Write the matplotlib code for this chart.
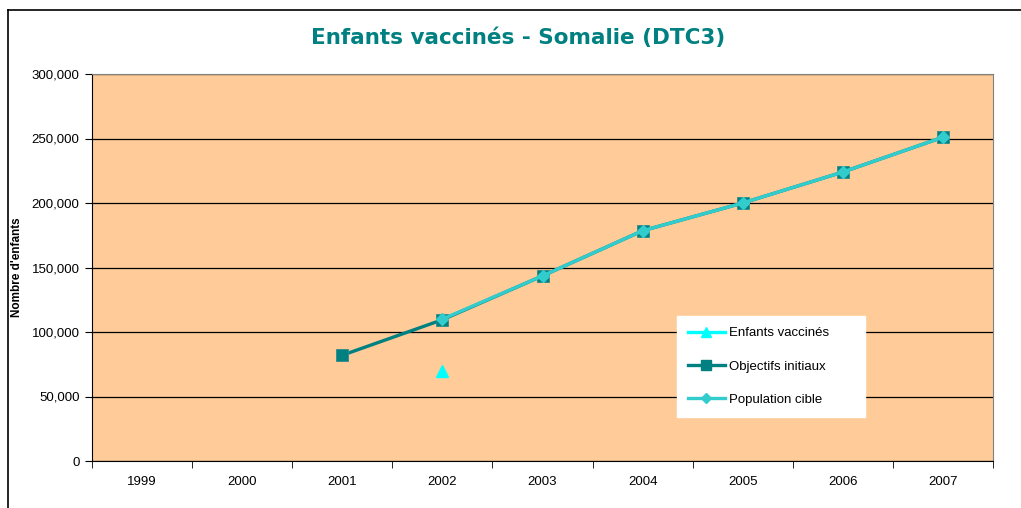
import matplotlib
matplotlib.use("Agg")
import matplotlib.pyplot as plt
from matplotlib.lines import Line2D
from matplotlib.ticker import FuncFormatter

## data
years = ["1999", "2000", "2001", "2002", "2003", "2004", "2005", "2006", "2007"]
enfants_vaccines = [None, None, None, 70000, None, None, None, None, None]
objectifs_initiaux = [None, None, 82000, 109500, 143500, 178500, 200000, 224000, 251000]
population_cible = [None, None, None, 110000, 143500, 178500, 200000, 224000, 251000]

plt.rcParams["font.family"] = ["Liberation Sans", "DejaVu Sans"]

fig = plt.figure(figsize=(10.21, 5.08), dpi=100)
ax = fig.add_axes([92 / 1021, 1 - 461 / 508, 901 / 1021, 387 / 508])
ax.set_facecolor("#FFCC99")


def pts(vals):
    xs = [i for i, v in enumerate(vals) if v is not None]
    return xs, [vals[i] for i in xs]


## series
x, y = pts(objectifs_initiaux)
ax.plot(x, y, "-s", color="#008080", linewidth=2.4, markersize=9,
        markeredgecolor="#2E8B8B", markeredgewidth=0.6, zorder=3,
        label="Objectifs initiaux")
x, y = pts(population_cible)
ax.plot(x, y, "-D", color="#33CCCC", linewidth=2.4, markersize=6.5,
        markeredgecolor="#33CCCC", zorder=4, label="Population cible")
x, y = pts(enfants_vaccines)
ax.plot(x, y, "^", color="#00FFFF", markersize=8, linestyle="-",
        linewidth=2.4, zorder=5, label="Enfants vaccinés")

## axes
ax.set_xlim(-0.5, len(years) - 0.5)
ax.set_ylim(0, 300000)
ax.set_yticks(range(0, 300001, 50000))
ax.yaxis.set_major_formatter(FuncFormatter(lambda v, p: "0" if v == 0 else f"{int(v):,}"))
ax.set_xticks(range(len(years)))
ax.set_xticklabels(years)
ax.set_xticks([i - 0.5 for i in range(len(years) + 1)], minor=True)
ax.tick_params(axis="x", which="major", length=0, pad=11, labelsize=9.5)
ax.tick_params(axis="x", which="minor", length=5, direction="out")
ax.tick_params(axis="y", length=5, direction="out", labelsize=9.5, pad=4)
ax.grid(axis="y", color="black", linewidth=0.9)
ax.set_axisbelow(True)

for s in ["top", "right"]:
    ax.spines[s].set_color("#808080")
for s in ["left", "bottom"]:
    ax.spines[s].set_color("black")

ax.set_ylabel("Nombre d'enfants", fontsize=8.5, fontweight="bold")
ax.yaxis.set_label_coords(-69 / 901, 0.5)

fig.text(518.5 / 1021, 1 - 38 / 508, "Enfants vaccinés - Somalie (DTC3)",
         ha="center", va="center", fontsize=15.5, fontweight="bold",
         color="#008080", family="DejaVu Sans")

## legend
handles = [
    Line2D([], [], color="#00FFFF", linewidth=2.4, marker="^", markersize=7),
    Line2D([], [], color="#008080", linewidth=2.4, marker="s", markersize=7),
    Line2D([], [], color="#33CCCC", linewidth=2.4, marker="D", markersize=5),
]
leg = ax.legend(handles, ["Enfants vaccinés", "Objectifs initiaux", "Population cible"],
                loc="upper left", bbox_to_anchor=(0.649, 0.375, 0.209, 0.0),
                mode="expand", fontsize=9.5, frameon=True, fancybox=False,
                facecolor="white", edgecolor="white", framealpha=1,
                handlelength=2.8, handletextpad=0.3, labelspacing=1.6,
                borderpad=0.85, borderaxespad=0)
leg.set_zorder(10)

## outer chart frame (left and top edges visible)
fig.add_artist(Line2D([8 / 1021, 8 / 1021], [0, 1 - 10 / 508], color="black", linewidth=1.2))
fig.add_artist(Line2D([8 / 1021, 1], [1 - 10 / 508, 1 - 10 / 508], color="black", linewidth=1.2))

fig.savefig("out.png", dpi=100)
